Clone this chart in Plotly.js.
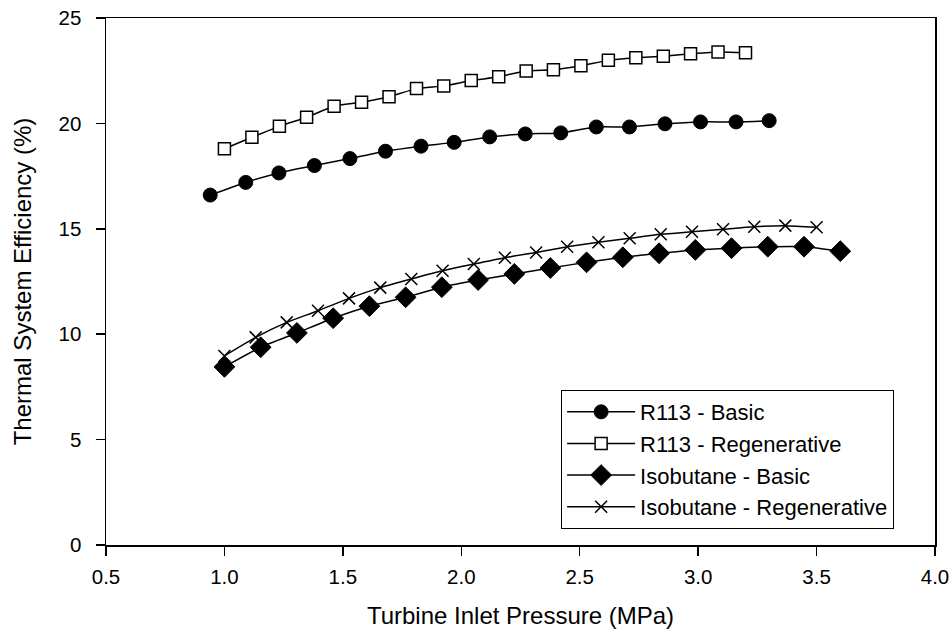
<!DOCTYPE html>
<html>
<head>
<meta charset="utf-8">
<script src="https://cdn.plot.ly/plotly-3.0.1.min.js"></script>
<style>html,body{margin:0;padding:0;background:#fff}#chart{width:952px;height:632px}</style>
</head>
<body>
<div id="chart"></div>
<script>
// Data
const seriesNames = ["R113 - Basic", "R113 - Regenerative", "Isobutane - Basic", "Isobutane - Regenerative"];

const r113BasicX = [0.94, 1.09, 1.23, 1.38, 1.53, 1.68, 1.83, 1.97, 2.12, 2.27, 2.42, 2.57, 2.71, 2.86, 3.01, 3.16, 3.30];
const r113BasicY = [16.6, 17.2, 17.65, 18.0, 18.33, 18.68, 18.92, 19.1, 19.36, 19.5, 19.55, 19.83, 19.83, 19.98, 20.07, 20.07, 20.13];

const r113RegenX = [1.00, 1.116, 1.232, 1.347, 1.463, 1.579, 1.695, 1.811, 1.926, 2.042, 2.158, 2.274, 2.389, 2.505, 2.621, 2.737, 2.853, 2.968, 3.084, 3.20];
const r113RegenY = [18.8, 19.34, 19.86, 20.29, 20.81, 21.0, 21.26, 21.65, 21.78, 22.03, 22.21, 22.49, 22.55, 22.74, 22.99, 23.11, 23.19, 23.3, 23.39, 23.35];

const isoBasicX = [1.00, 1.153, 1.306, 1.459, 1.612, 1.765, 1.918, 2.071, 2.224, 2.376, 2.529, 2.682, 2.835, 2.988, 3.141, 3.294, 3.447, 3.60];
const isoBasicY = [8.45, 9.38, 10.06, 10.76, 11.33, 11.75, 12.23, 12.57, 12.86, 13.14, 13.41, 13.65, 13.84, 14.0, 14.08, 14.15, 14.15, 13.94];

const isoRegenX = [1.00, 1.132, 1.263, 1.395, 1.526, 1.658, 1.789, 1.921, 2.053, 2.184, 2.316, 2.447, 2.579, 2.711, 2.842, 2.974, 3.105, 3.237, 3.368, 3.50];
const isoRegenY = [8.97, 9.85, 10.56, 11.11, 11.70, 12.21, 12.62, 13.01, 13.33, 13.63, 13.88, 14.15, 14.36, 14.55, 14.74, 14.86, 14.98, 15.10, 15.15, 15.07];

const xTicks = [0.5, 1.0, 1.5, 2.0, 2.5, 3.0, 3.5, 4.0];
const xTickLabels = ["0.5", "1.0", "1.5", "2.0", "2.5", "3.0", "3.5", "4.0"];
const yTicks = [0, 5, 10, 15, 20, 25];

const lineStyle = {color: "#000", width: 1.5, shape: "spline", smoothing: 0.6};

const traces = [
  {x: r113BasicX, y: r113BasicY, name: seriesNames[0], mode: "lines+markers", line: lineStyle,
   marker: {symbol: "circle", size: 14, color: "#000", line: {color: "#000", width: 1}}},
  {x: r113RegenX, y: r113RegenY, name: seriesNames[1], mode: "lines+markers", line: lineStyle,
   marker: {symbol: "square", size: 12, color: "#fff", line: {color: "#000", width: 1.5}}},
  {x: isoBasicX, y: isoBasicY, name: seriesNames[2], mode: "lines+markers", line: lineStyle,
   marker: {symbol: "diamond", size: 16, color: "#000", line: {color: "#000", width: 1}}},
  {x: isoRegenX, y: isoRegenY, name: seriesNames[3], mode: "lines+markers", line: lineStyle,
   marker: {symbol: "x-thin", size: 12, color: "#000", line: {color: "#000", width: 1.5}}}
];

const layout = {
  width: 952, height: 632,
  margin: {l: 106, r: 17, t: 18, b: 87},
  paper_bgcolor: "#fff", plot_bgcolor: "#fff",
  font: {family: "Liberation Sans, Arial, sans-serif", size: 20, color: "#000"},
  showlegend: true,
  legend: {
    x: 0.549, y: 0.294, xanchor: "left", yanchor: "top",
    bordercolor: "#000", borderwidth: 1, bgcolor: "#fff",
    font: {size: 22, family: "Liberation Sans, Arial, sans-serif"},
    tracegroupgap: 0, itemwidth: 68
  },
  xaxis: {
    range: [0.5, 4.0], tickvals: xTicks, ticktext: xTickLabels,
    ticks: "outside", ticklen: 9, tickwidth: 1.5, tickcolor: "#000",
    showline: true, linecolor: "#000", linewidth: 1.5, mirror: true,
    showgrid: false, zeroline: false, ticklabelstandoff: 4,
    tickfont: {size: 20.5},
    title: {text: "Turbine Inlet Pressure (MPa)", font: {size: 24}, standoff: 20}
  },
  yaxis: {
    range: [0, 25], tickvals: yTicks,
    ticks: "outside", ticklen: 9, tickwidth: 1.5, tickcolor: "#000",
    showline: true, linecolor: "#000", linewidth: 1.5, mirror: true,
    showgrid: false, zeroline: false, ticklabelstandoff: 10,
    tickfont: {size: 20.5},
    title: {text: "Thermal System Efficiency (%)", font: {size: 24}, standoff: 20}
  }
};

Plotly.newPlot("chart", traces, layout, {displayModeBar: false, staticPlot: true});
</script>
</body>
</html>
